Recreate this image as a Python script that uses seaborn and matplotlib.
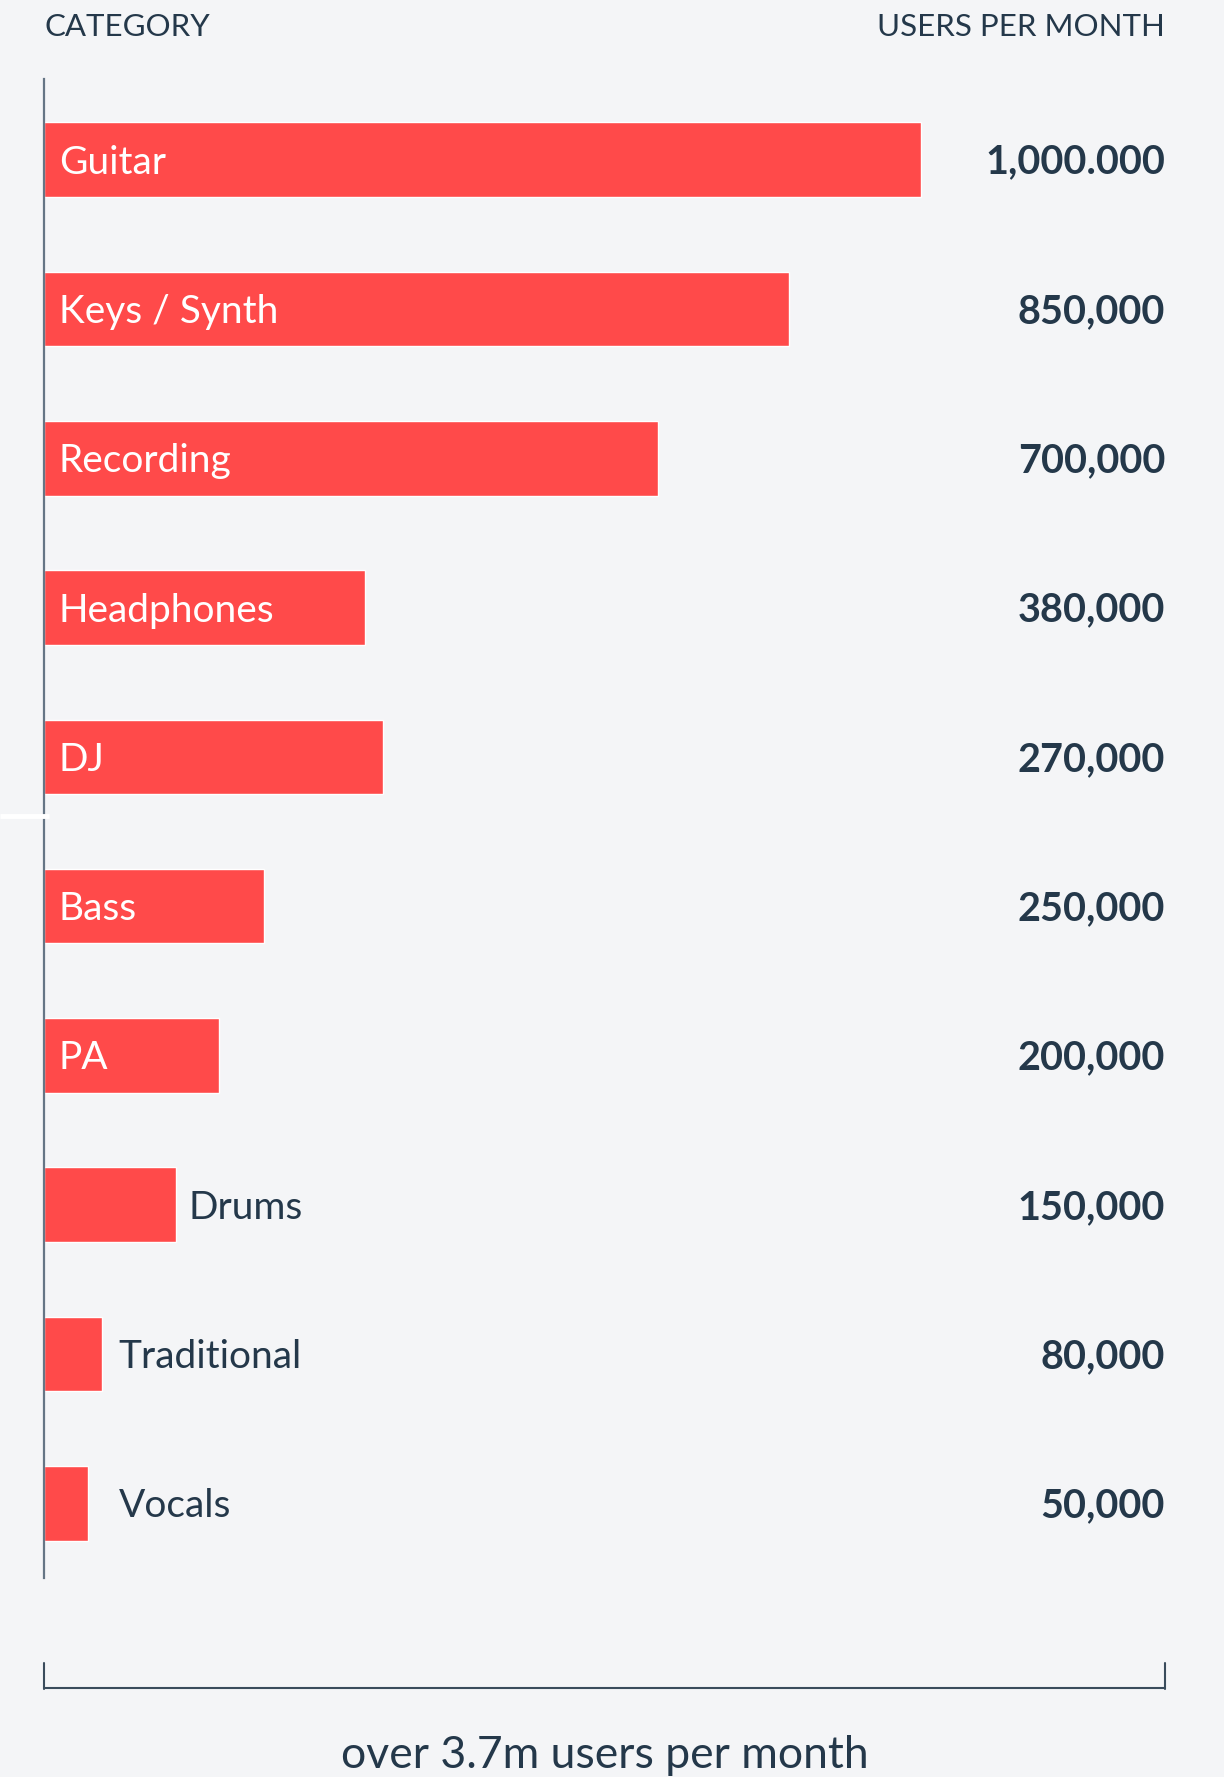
import matplotlib
matplotlib.use("Agg")
import matplotlib.pyplot as plt
import seaborn as sns
import pandas as pd
from matplotlib.lines import Line2D

categories = ["Guitar", "Keys / Synth", "Recording", "Headphones", "DJ",
              "Bass", "PA", "Drums", "Traditional", "Vocals"]
bar_values = [1000000, 850000, 700000, 366000, 386000,
              251000, 200000, 150000, 66000, 50000]
value_labels = ["1,000.000", "850,000", "700,000", "380,000", "270,000",
                "250,000", "200,000", "150,000", "80,000", "50,000"]
header_left = "CATEGORY"
header_right = "USERS PER MONTH"
footer = "over 3.7m users per month"

BG = "#f4f5f7"
RED = "#ff4a4a"
DARK = "#24384a"
AXIS = "#657585"

sns.set_theme(style="white")
plt.rcParams["font.family"] = ["Lato", "DejaVu Sans"]

W, H, DPI = 1224, 1777, 100
fig = plt.figure(figsize=(W / DPI, H / DPI), dpi=DPI, facecolor=BG)

ax_left, ax_right = 44, 1165
ax_top, ax_bot = 79, 1578
ax = fig.add_axes([ax_left / W, 1 - ax_bot / H, (ax_right - ax_left) / W, (ax_bot - ax_top) / H])
ax.set_facecolor(BG)

df = pd.DataFrame({"category": categories, "value": bar_values})
sns.barplot(data=df, y="category", x="value", orient="h", color=RED,
            saturation=1, width=0.5, ax=ax)

px_per_unit = 877 / 1e6
xmax = (ax_right - ax_left) / px_per_unit
ax.set_xlim(0, xmax)
ax.set_ylim(9.5, -0.54)
for s in ["top", "right", "bottom"]:
    ax.spines[s].set_visible(False)
ax.spines["left"].set_color(AXIS)
ax.spines["left"].set_linewidth(1.6)
ax.set_xticks([])
ax.set_yticks([])
ax.set_xlabel("")
ax.set_ylabel("")

pt = 72 / DPI  # points per pixel
label_min = 70000
for i, (cat, v, lab) in enumerate(zip(categories, bar_values, value_labels)):
    if v >= 200000:
        ax.annotate(cat, xy=(0, i), xytext=(15 * pt, -14 * pt), textcoords="offset points",
                    ha="left", va="baseline", color="white", fontsize=28, fontweight="normal")
    else:
        ax.annotate(cat, xy=(max(v, label_min), i), xytext=(13 * pt, -14 * pt),
                    textcoords="offset points", ha="left", va="baseline",
                    color=DARK, fontsize=28, fontweight="normal")
    ax.annotate(lab, xy=(xmax, i), xytext=(0, -14 * pt), textcoords="offset points",
                ha="right", va="baseline", color=DARK, fontsize=28.5, fontweight="bold",
                annotation_clip=False)

fig.text(ax_left / W, 1 - 36 / H, header_left, ha="left", va="baseline",
         color=DARK, fontsize=22.5, fontweight="normal")
fig.text(ax_right / W, 1 - 36 / H, header_right, ha="right", va="baseline",
         color=DARK, fontsize=22.5, fontweight="normal")

# bracket
lc = "#3a4c5c"
fig.add_artist(Line2D([ax_left / W, ax_right / W], [1 - 1688 / H, 1 - 1688 / H],
                      color=lc, lw=1.5, solid_capstyle="butt"))
fig.add_artist(Line2D([ax_left / W, ax_left / W], [1 - 1663 / H, 1 - 1689 / H],
                      color=lc, lw=1.5))
fig.add_artist(Line2D([ax_right / W, ax_right / W], [1 - 1663 / H, 1 - 1689 / H],
                      color=lc, lw=1.5))

# small white mark
fig.add_artist(Line2D([0, 49 / W], [1 - 815.5 / H, 1 - 815.5 / H], color="white", lw=3.5,
                      solid_capstyle="butt"))

fig.text((ax_left + ax_right) / 2 / W, 1 - 1768 / H, footer, ha="center", va="baseline",
         color=DARK, fontsize=32)

fig.savefig("out.png", dpi=DPI, facecolor=BG)
